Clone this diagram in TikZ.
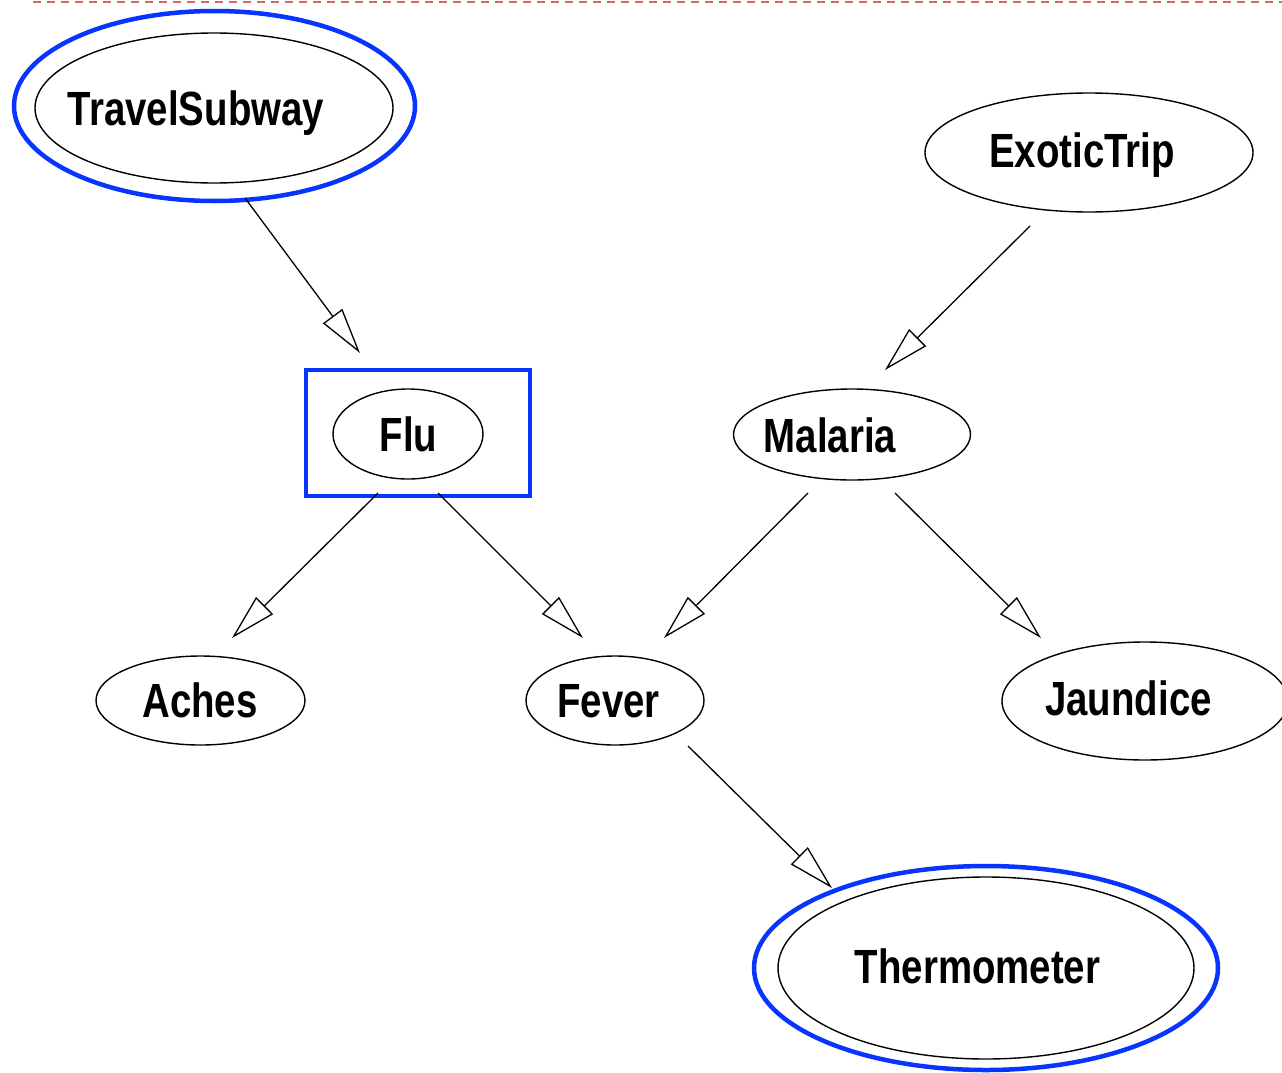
\documentclass[tikz,border=0pt]{standalone}
\usepackage{fontspec}
\newfontfamily\labfont{Liberation Sans}[FakeStretch=0.8]
\usetikzlibrary{shapes.geometric,arrows.meta}
\definecolor{hiblue}{RGB}{8,52,255}
\definecolor{rulered}{RGB}{208,104,100}
\begin{document}
\begin{tikzpicture}[x=1pt,y=-1pt,
  var/.style={ellipse, draw=black, line width=1.4pt, inner sep=0pt},
  ring/.style={ellipse, draw=hiblue, line width=4.5pt, inner sep=0pt},
  lbl/.style={font=\labfont\bfseries\fontsize{48}{48}\selectfont, anchor=base, inner sep=0pt},
  link/.style={line width=1.3pt, -{Triangle[open, length=46pt, width=24pt]}}
]
\clip (0,0) rectangle (1282,1073);

% dashed rule along the top edge
\coordinate (rule-l) at (33,2);
\coordinate (rule-r) at (1290,2);
\draw[rulered, line width=1.8pt, dash pattern=on 8.3pt off 5.7pt] (rule-l) -- (rule-r);

% variables
\node[var, minimum width=358, minimum height=150] (ts) at (214,108) {};
\node[ring, minimum width=401, minimum height=190] (ts-ring) at (214.5,106) {};
\node[lbl] (ts-t) at (196,125) {TravelSubway};

\node[var, minimum width=328, minimum height=119] (et) at (1089,152.5) {};
\node[lbl] (et-t) at (1082,167) {ExoticTrip};

\node[var, minimum width=150, minimum height=90] (flu) at (408,434) {};
\node[draw=hiblue, line width=4.5pt, minimum width=224, minimum height=126, inner sep=0pt] (flu-box) at (418,433) {};
\node[lbl] (flu-t) at (408.5,451) {Flu};

\node[var, minimum width=237, minimum height=91] (mal) at (852,434.5) {};
\node[lbl] (mal-t) at (830,452) {Malaria};

\node[var, minimum width=209, minimum height=89] (aches) at (200.5,700.5) {};
\node[lbl] (aches-t) at (200,717) {Aches};

\node[var, minimum width=178, minimum height=89] (fever) at (615,700.5) {};
\node[lbl] (fever-t) at (608.5,717) {Fever};

\node[var, minimum width=286, minimum height=118] (jaun) at (1145,701) {};
\node[lbl] (jaun-t) at (1128.5,715) {Jaundice};

\node[var, minimum width=416, minimum height=182] (therm) at (986,968) {};
\node[ring, minimum width=464, minimum height=204] (therm-ring) at (986,968) {};
\node[lbl] (therm-t) at (977.5,983) {Thermometer};

% connector ends
\coordinate (ts-out) at (245,198);
\coordinate (flu-in) at (360,353);
\coordinate (et-out) at (1030,226);
\coordinate (mal-in) at (885,370);
\coordinate (flu-outl) at (378,493);
\coordinate (flu-outr) at (438,493);
\coordinate (aches-in) at (232,638);
\coordinate (fever-inl) at (583,638);
\coordinate (mal-outl) at (808,493);
\coordinate (mal-outr) at (895,493);
\coordinate (fever-inr) at (664,638);
\coordinate (jaun-in) at (1041,638);
\coordinate (fever-out) at (688,746);
\coordinate (therm-in) at (832,888);

% edges
\draw[link] (ts-out) -- (flu-in);
\draw[link] (et-out) -- (mal-in);
\draw[link] (flu-outl) -- (aches-in);
\draw[link] (flu-outr) -- (fever-inl);
\draw[link] (mal-outl) -- (fever-inr);
\draw[link] (mal-outr) -- (jaun-in);
\draw[link] (fever-out) -- (therm-in);
\end{tikzpicture}
\end{document}
